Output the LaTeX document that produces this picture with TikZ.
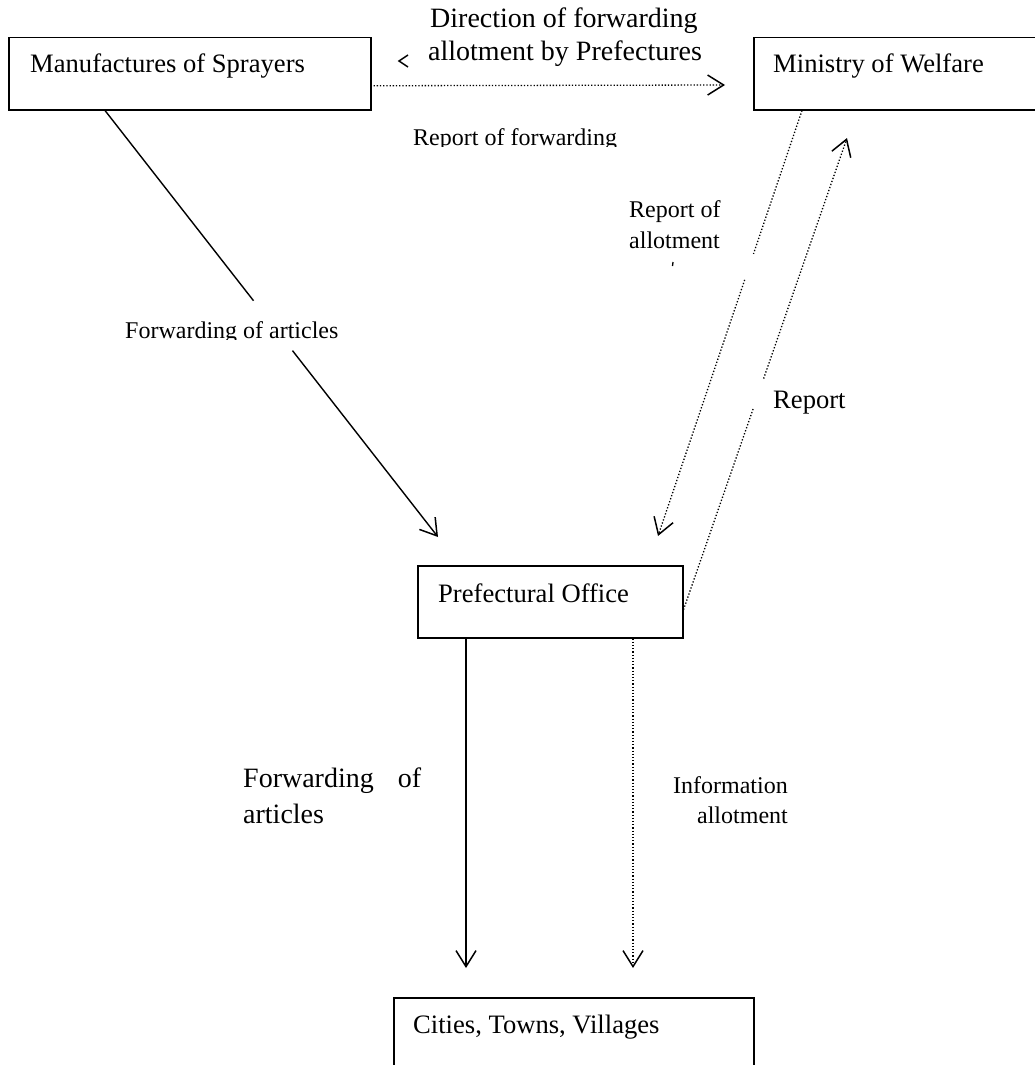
\documentclass[tikz,border=0pt]{standalone}
\usepackage{fontspec}
\setmainfont{Liberation Serif}
\usetikzlibrary{arrows.meta,calc}
\begin{document}
\begin{tikzpicture}[x=1pt,y=-1pt,
  box/.style={draw, line width=1.5pt, rectangle, inner sep=0pt, anchor=north west},
  tbox/.style={font=\fontsize{26.6}{30}\selectfont, inner sep=0pt, anchor=base west},
  tbig/.style={font=\fontsize{28}{32}\selectfont, inner sep=0pt, anchor=base west},
  tsmall/.style={font=\fontsize{24}{28}\selectfont, inner sep=0pt, anchor=base west},
  solidline/.style={line width=1.4pt},
  dotline/.style={line width=1.3pt, dash pattern=on 1.3pt off 1.9pt},
  tip/.style={-{Straight Barb[length=16pt,width=20pt,line width=1.5pt]}}
]
\useasboundingbox (0,0) rectangle (1034,1065);
\fill[white] (0,0) rectangle (1034,1065);

% boxes
\node[box, minimum width=362pt, minimum height=72pt] (mfr) at (8,37) {};
\node[box, minimum width=290pt, minimum height=72pt] (mow) at (753,37) {};
\node[box, minimum width=265pt, minimum height=72pt] (pref) at (417,565) {};
\node[box, minimum width=360pt, minimum height=80pt] (ctv) at (393,997) {};

% box texts
\node[tbox] (mfrT) at (30,73) {Manufactures of Sprayers};
\node[tbox] (mowT) at (773,72) {Ministry of Welfare};
\node[tbox] (prefT) at (438,602) {Prefectural Office};
\node[tbox] (ctvT) at (413,1033) {Cities, Towns, Villages};

% labels
\node[tbig] (dir1) at (430,28) {Direction of forwarding};
\node[tbig] (dir2) at (428,60) {allotment by Prefectures};
\begin{scope}
  \clip (380,110) rectangle (660,146);
  \node[tsmall] (repfw) at (413,145) {Report of forwarding};
\end{scope}
\begin{scope}
  \clip (100,300) rectangle (400,339);
  \node[tsmall] (fwart) at (125,338) {Forwarding of articles};
\end{scope}
\node[tsmall] (repal1) at (629,217) {Report of};
\node[tsmall] (repal2) at (629,248) {allotment};
\node[tbox] (rep) at (773,408) {Report};
\node[tbig] (fw1) at (243,787) {Forwarding\hspace{24pt}of};
\node[tbig] (fw2) at (243,823) {articles};
\node[tsmall, anchor=base east] (inf1) at (788,793) {Information};
\node[tsmall, anchor=base east] (inf2) at (788,823) {allotment};

% free ends of connectors
\coordinate (mfrOut) at ([xshift=97pt]mfr.south west);
\coordinate (fwTip) at (438,537);
\coordinate (mowOut) at ([xshift=49pt]mow.south west);
\coordinate (alTip) at (658,536);
\coordinate (prefOut) at ([yshift=-8pt]pref.east);
\coordinate (repTip) at (847,138);
\coordinate (hStart) at ([xshift=2pt,yshift=-12pt]mfr.east);
\coordinate (hTip) at (725,85);
\coordinate (vsStart) at ([xshift=49pt]pref.south west);
\coordinate (vsTip) at (466,968);
\coordinate (vdStart) at ([xshift=216pt]pref.south west);
\coordinate (vdTip) at (633,968);

% top dotted arrow
\draw[dotline, tip] (hStart) -- (hTip);
\draw[line width=1.4pt] (408,55) -- (399,61) -- (408,67);

% manufacturers -> prefectural (solid, broken by label)
\draw[solidline] (mfrOut) -- ($(mfrOut)!0.446!(fwTip)$);
\draw[solidline, tip] ($(mfrOut)!0.563!(fwTip)$) -- (fwTip);

% ministry -> prefectural (dotted, broken)
\draw[dotline] (mowOut) -- ($(mowOut)!0.337!(alTip)$);
\draw[dotline, tip] ($(mowOut)!0.398!(alTip)$) -- (alTip);
\draw[line width=1.3pt] (673,262) -- (672.5,266);

% prefectural -> ministry (report, dotted, broken)
\draw[dotline] (prefOut) -- ($(prefOut)!0.427!(repTip)$);
\draw[dotline, tip] ($(prefOut)!0.490!(repTip)$) -- (repTip);

% prefectural -> cities
\draw[solidline, tip] (vsStart) -- (vsTip);
\draw[dotline, tip] (vdStart) -- (vdTip);
\end{tikzpicture}
\end{document}
